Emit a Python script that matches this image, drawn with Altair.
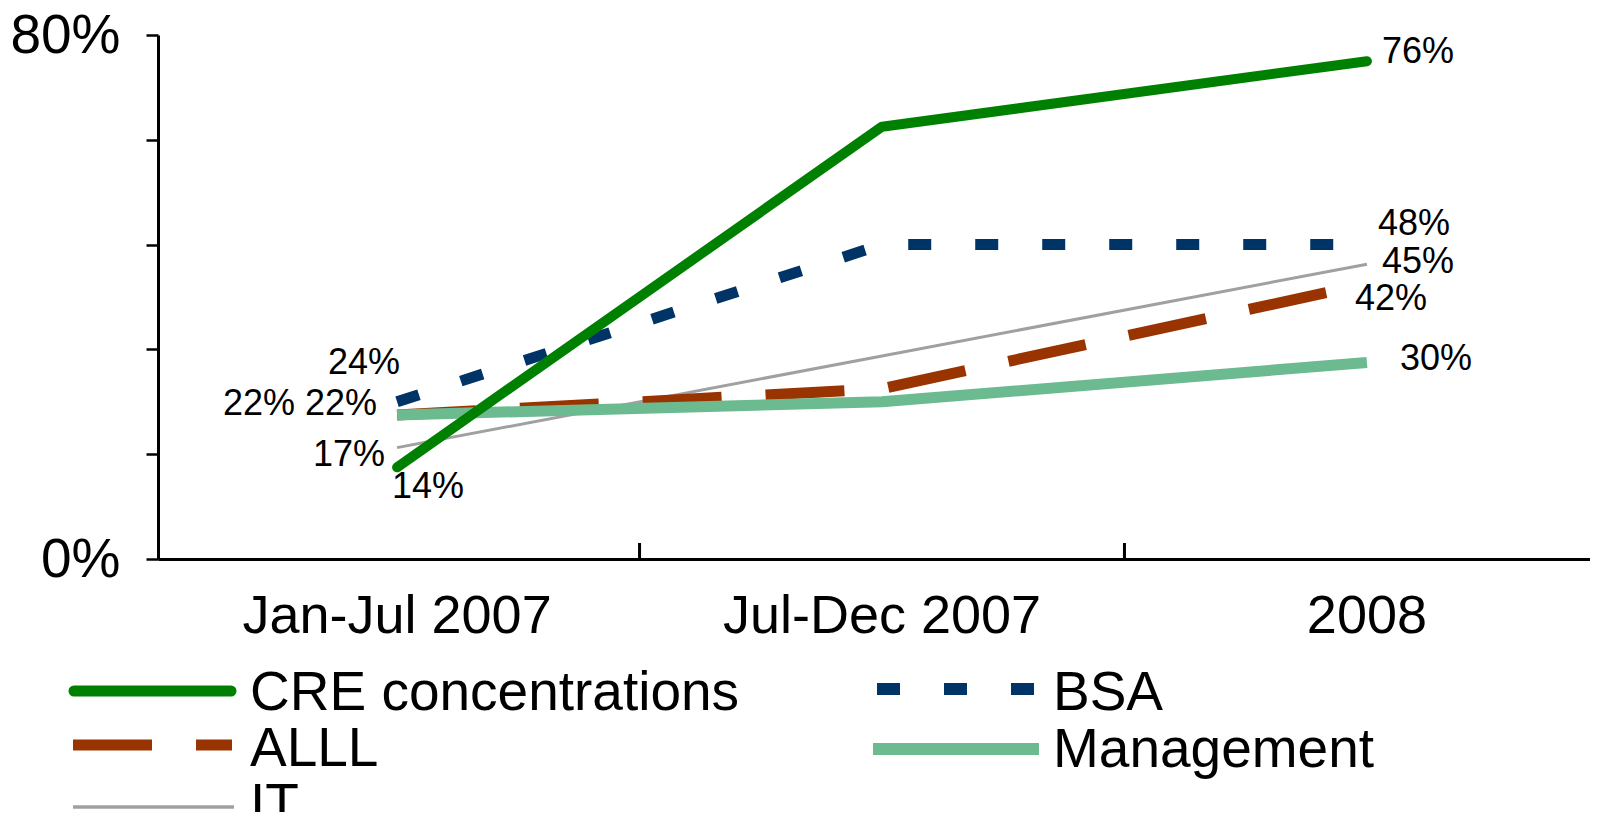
import altair as alt
import pandas as pd

# ---------------- data ----------------
periods = ["Jan-Jul 2007", "Jul-Dec 2007", "2008"]
series = ["CRE concentrations", "BSA", "ALLL", "Management", "IT"]
cre = [14, 66, 76]
bsa = [24, 48, 48]
alll = [22, 26, 42]
management = [22, 24, 30]
it = [17, 31, 45]
y_ticks = [0, 16, 32, 48, 64, 80]

values = {
    "CRE concentrations": cre,
    "BSA": bsa,
    "ALLL": alll,
    "Management": management,
    "IT": it,
}

rows = []
for s in series:
    for i, p in enumerate(periods):
        rows.append({"series": s, "idx": i, "period": p, "value": values[s][i] / 100})
df = pd.DataFrame(rows)
cat_df = pd.DataFrame({"idx": list(range(len(periods))), "period": periods})
bound_df = pd.DataFrame({"idx": [i + 0.5 for i in range(len(periods) - 1)]})

# ---------------- styles ----------------
styles = {
    "CRE concentrations": dict(color="#008000", width=10, dash=None, cap="round"),
    "BSA": dict(color="#003366", width=11, dash=[23, 44], cap="butt"),
    "ALLL": dict(color="#993300", width=11, dash=[79, 44], cap="butt"),
    "Management": dict(color="#6cba8f", width=11, dash=None, cap="butt"),
    "IT": dict(color="#a0a0a0", width=3, dash=None, cap="butt"),
}
draw_order = ["IT", "ALLL", "Management", "BSA", "CRE concentrations"]

W, H = 1432, 524
FONT = "Liberation Sans, Arial, Helvetica, sans-serif"
NARROW = "Liberation Sans Narrow, Arial Narrow, Liberation Sans, Arial, sans-serif"

x_scale = alt.Scale(domain=[-0.493, 2.46], nice=False, zero=False)
y_scale = alt.Scale(domain=[0, 0.8], nice=False, zero=True)

x_enc = alt.X(
    "idx:Q",
    scale=x_scale,
    axis=alt.Axis(
        values=[0.5, 1.5], labels=False, ticks=False, grid=False, title=None,
        domainColor="black", domainWidth=3,
    ),
)
y_enc = alt.Y(
    "value:Q",
    scale=y_scale,
    axis=alt.Axis(
        values=[t / 100 for t in y_ticks], format=".0%",
        labelExpr="(datum.value == 0 || datum.value == 0.8) ? datum.label : ''",
        tickSize=12, tickWidth=2.5, tickColor="black",
        domainColor="black", domainWidth=3, grid=False, title=None,
        labelFont=FONT, labelFontSize=55, labelColor="black", labelPadding=26,
    ),
)

layers = []

# x-axis boundary ticks (pointing up into plot)
layers.append(
    alt.Chart(bound_df).mark_rule(color="black", strokeWidth=3).encode(
        x=x_enc, y=alt.value(H), y2=alt.value(H - 16)
    )
)

# lines
for s in draw_order:
    st = styles[s]
    kw = dict(color=st["color"], strokeWidth=st["width"], strokeCap=st["cap"],
              strokeJoin="round" if s == "CRE concentrations" else "miter")
    if st["dash"]:
        kw["strokeDash"] = st["dash"]
    layers.append(
        alt.Chart(df[df.series == s]).mark_line(**kw).encode(x=x_enc, y=y_enc)
    )

# category labels
layers.append(
    alt.Chart(cat_df).mark_text(
        font=FONT, fontSize=54, color="black", baseline="middle", align="center"
    ).encode(x=x_enc, y=alt.value(H + 58), text="period:N")
)

# data labels: (series, index, align, dx, dy)
label_specs = [
    ("CRE concentrations", 2, "left", 15, -9),
    ("BSA", 2, "left", 11, -21),
    ("IT", 2, "left", 15, -2),
    ("ALLL", 2, "left", -12, 15),
    ("Management", 2, "left", 33, -4),
    ("BSA", 0, "right", 3, -39),
    ("Management", 0, "right", -20, -11),
    ("ALLL", 0, "right", -102, -11),
    ("IT", 0, "right", -12, 7),
    ("CRE concentrations", 0, "left", -5, 20),
]
for s, i, al, dx, dy in label_specs:
    sub = df[(df.series == s) & (df.idx == i)]
    layers.append(
        alt.Chart(sub).mark_text(
            font=NARROW, fontSize=36, color="black", align=al, baseline="middle",
            dx=dx, dy=dy,
        ).encode(x=x_enc, y=y_enc, text=alt.Text("value:Q", format=".0%"))
    )

# manual legend
legend_pos = {
    "CRE concentrations": dict(x1=-84, x2=73, y=656, tx=92, ty=658),
    "BSA": dict(x1=719, x2=877, y=654, tx=895, ty=658),
    "ALLL": dict(x1=-85, x2=74, y=710, tx=92, ty=714),
    "Management": dict(x1=715, x2=881, y=714, tx=895, ty=715),
    "IT": dict(x1=-85, x2=76, y=772, tx=92, ty=770),
}
leg_width = {"CRE concentrations": 11, "BSA": 12, "ALLL": 11, "Management": 12, "IT": 3.5}
for s in series:
    st = styles[s]
    p = legend_pos[s]
    kw = dict(color=st["color"], strokeWidth=leg_width[s], strokeCap=st["cap"])
    if st["dash"]:
        kw["strokeDash"] = st["dash"]
    one = pd.DataFrame({"series": [s]})
    layers.append(
        alt.Chart(one).mark_rule(**kw).encode(
            x=alt.value(p["x1"]), x2=alt.value(p["x2"]), y=alt.value(p["y"])
        )
    )
    layers.append(
        alt.Chart(one).mark_text(
            font=FONT, fontSize=55, color="black", align="left", baseline="middle"
        ).encode(x=alt.value(p["tx"]), y=alt.value(p["ty"]), text="series:N")
    )

chart = (
    alt.layer(*layers)
    .properties(
        width=W,
        height=H,
        autosize=alt.AutoSizeParams(type="none"),
        padding={"left": 150, "top": 27, "right": 0, "bottom": 253},
    )
    .configure_view(stroke=None)
)

chart.save("out.html", embed_options={"renderer": "svg", "actions": False})
